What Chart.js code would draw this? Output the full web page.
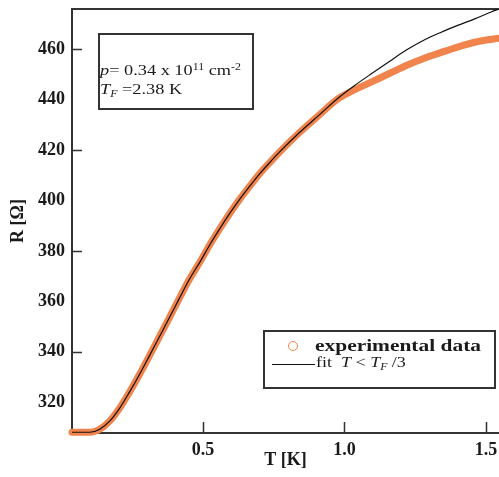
<!DOCTYPE html>
<html>
<head>
<meta charset="utf-8">
<script src="https://cdn.jsdelivr.net/npm/chart.js@4"></script>
<style>
  html, body { margin: 0; padding: 0; background: #fff; }
  #wrap { position: relative; width: 499px; height: 477px; overflow: hidden; }
  .box { position: absolute; border: 2px solid #333; box-sizing: border-box; }
  .txt { position: absolute; font-family: 'Liberation Serif', serif; color: #1a1a1a; white-space: nowrap; transform-origin: left center; }
  .txt sup { font-size: 0.65em; vertical-align: 0.55em; line-height: 0; }
  .txt sub { font-size: 0.65em; vertical-align: -0.35em; line-height: 0; }
</style>
</head>
<body>
<div id="wrap">
  <canvas id="chart" width="499" height="477"></canvas>

  <div class="box" style="left:98px; top:33px; width:156px; height:77px;"></div>
  <div class="txt" style="left:100px; top:61px; font-size:15px; line-height:18px; transform:scaleX(1.22);"><i>p</i>= 0.34 x 10<sup>11</sup> cm<sup>-2</sup></div>
  <div class="txt" style="left:100px; top:80px; font-size:15px; line-height:18px; transform:scaleX(1.22);"><i>T<sub>F</sub></i> =2.38 K</div>

  <div class="box" style="left:263px; top:330px; width:233px; height:59px;"></div>
  <div style="position:absolute; left:288px; top:341px; width:8px; height:8px; border:1.5px solid rgb(240,132,76); border-radius:50%;"></div>
  <div class="txt" style="left:315px; top:336px; font-size:17px; line-height:20px; font-weight:bold; transform:scaleX(1.26);">experimental data</div>
  <div style="position:absolute; left:272px; top:364px; width:43px; height:1.3px; background:#111;"></div>
  <div class="txt" style="left:316px; top:353px; font-size:15px; line-height:18px; transform:scaleX(1.2);">fit&nbsp; <i>T</i> &lt; <i>T<sub>F</sub></i> /3</div>
</div>
<script>
// values: T [K] and R [Ohm]
const temps = [0.037, 0.10, 0.135, 0.17, 0.205, 0.24, 0.275, 0.31, 0.345, 0.38, 0.415, 0.45,
  0.49, 0.525, 0.56, 0.595, 0.63, 0.665, 0.70, 0.735, 0.77, 0.84, 0.91, 0.98, 1.04, 1.10,
  1.16, 1.22, 1.28, 1.34, 1.40, 1.46, 1.52, 1.546];
const measured = [308.1, 308.1, 309.3, 312.5, 317.6, 324.0, 330.9, 338.3, 345.8, 353.3, 360.9,
  368.4, 375.8, 382.7, 389.0, 395.0, 400.6, 405.7, 410.6, 415.0, 419.2, 426.9, 433.9, 440.6,
  444.2, 447.3, 450.5, 453.7, 456.4, 458.7, 460.9, 462.8, 464.0, 464.4];
const fitted = [308.1, 308.1, 309.3, 312.5, 317.6, 324.0, 330.9, 338.3, 345.8, 353.3, 360.9,
  368.4, 375.8, 382.7, 389.0, 395.0, 400.6, 405.7, 410.6, 415.0, 419.2, 426.9, 433.9, 440.9,
  446.0, 450.7, 455.3, 459.8, 463.6, 466.7, 469.5, 472.1, 474.9, 476.0];

const xTicks = [0.5, 1.0, 1.5];
const yTicks = [320, 340, 360, 380, 400, 420, 440, 460];
const yMarks = [340, 380, 420, 460];

const tickFont = { family: 'Liberation Serif', size: 18, weight: 'bold' };

// inward tick marks and the top frame line
const frame = {
  id: 'frame',
  beforeDatasetsDraw(chart) {
    const { ctx, chartArea: a, scales: { x, y } } = chart;
    ctx.save();
    ctx.strokeStyle = '#333';
    ctx.lineWidth = 1.5;
    ctx.beginPath();
    xTicks.forEach(v => {
      const px = Math.round(x.getPixelForValue(v)) + 0.5;
      ctx.moveTo(px, a.bottom);
      ctx.lineTo(px, a.bottom - 11);
    });
    yMarks.forEach(v => {
      const py = Math.round(y.getPixelForValue(v)) + 0.5;
      ctx.moveTo(a.left, py);
      ctx.lineTo(a.left + 10, py);
    });
    ctx.stroke();
    ctx.lineWidth = 2;
    ctx.beginPath();
    ctx.moveTo(a.left, a.top);
    ctx.lineTo(a.right, a.top);
    ctx.stroke();
    ctx.restore();
  }
};

new Chart(document.getElementById('chart'), {
  type: 'scatter',
  data: {
    datasets: [{
      label: 'fit T < TF/3',
      data: temps.map((t, i) => ({ x: t, y: fitted[i] })),
      showLine: true,
      borderColor: '#111',
      borderWidth: 1.2,
      pointRadius: 0,
      cubicInterpolationMode: 'monotone',
      order: 1
    }, {
      label: 'experimental data',
      data: temps.map((t, i) => ({ x: t, y: measured[i] })),
      showLine: true,
      borderColor: 'rgb(240,132,76)',
      borderWidth: 7,
      borderCapStyle: 'round',
      pointRadius: 0,
      cubicInterpolationMode: 'monotone',
      clip: 5,
      order: 2
    }]
  },
  options: {
    responsive: false,
    animation: false,
    layout: { padding: { top: 9, left: 0, right: 0, bottom: 0 } },
    plugins: { legend: { display: false }, tooltip: { enabled: false } },
    scales: {
      x: {
        type: 'linear',
        min: 0.037,
        max: 1.546,
        grid: { display: false, drawTicks: false },
        border: { display: true, color: '#333', width: 2 },
        afterBuildTicks: s => { s.ticks = xTicks.map(v => ({ value: v })); },
        afterFit: s => { s.height = 44; s.paddingLeft = 0; s.paddingRight = 0; },
        ticks: {
          font: tickFont,
          color: '#1a1a1a',
          padding: 7,
          maxRotation: 0,
          callback: v => v.toFixed(1)
        },
        title: {
          display: true,
          text: 'T [K]',
          font: { family: 'Liberation Serif', size: 18, weight: 'bold' },
          color: '#1a1a1a',
          padding: { bottom: 6 }
        }
      },
      y: {
        min: 307.8,
        max: 476,
        grid: { display: false, drawTicks: false },
        border: { display: true, color: '#333', width: 2 },
        afterBuildTicks: s => { s.ticks = yTicks.map(v => ({ value: v })); },
        afterFit: s => { s.width = 72; s.paddingTop = 0; s.paddingBottom = 0; },
        ticks: {
          font: tickFont,
          color: '#1a1a1a',
          padding: 7
        },
        title: {
          display: true,
          text: 'R [Ω]',
          font: { family: 'Liberation Serif', size: 18, weight: 'bold' },
          color: '#1a1a1a',
          padding: { top: 8 }
        }
      }
    }
  },
  plugins: [frame]
});
</script>
</body>
</html>
